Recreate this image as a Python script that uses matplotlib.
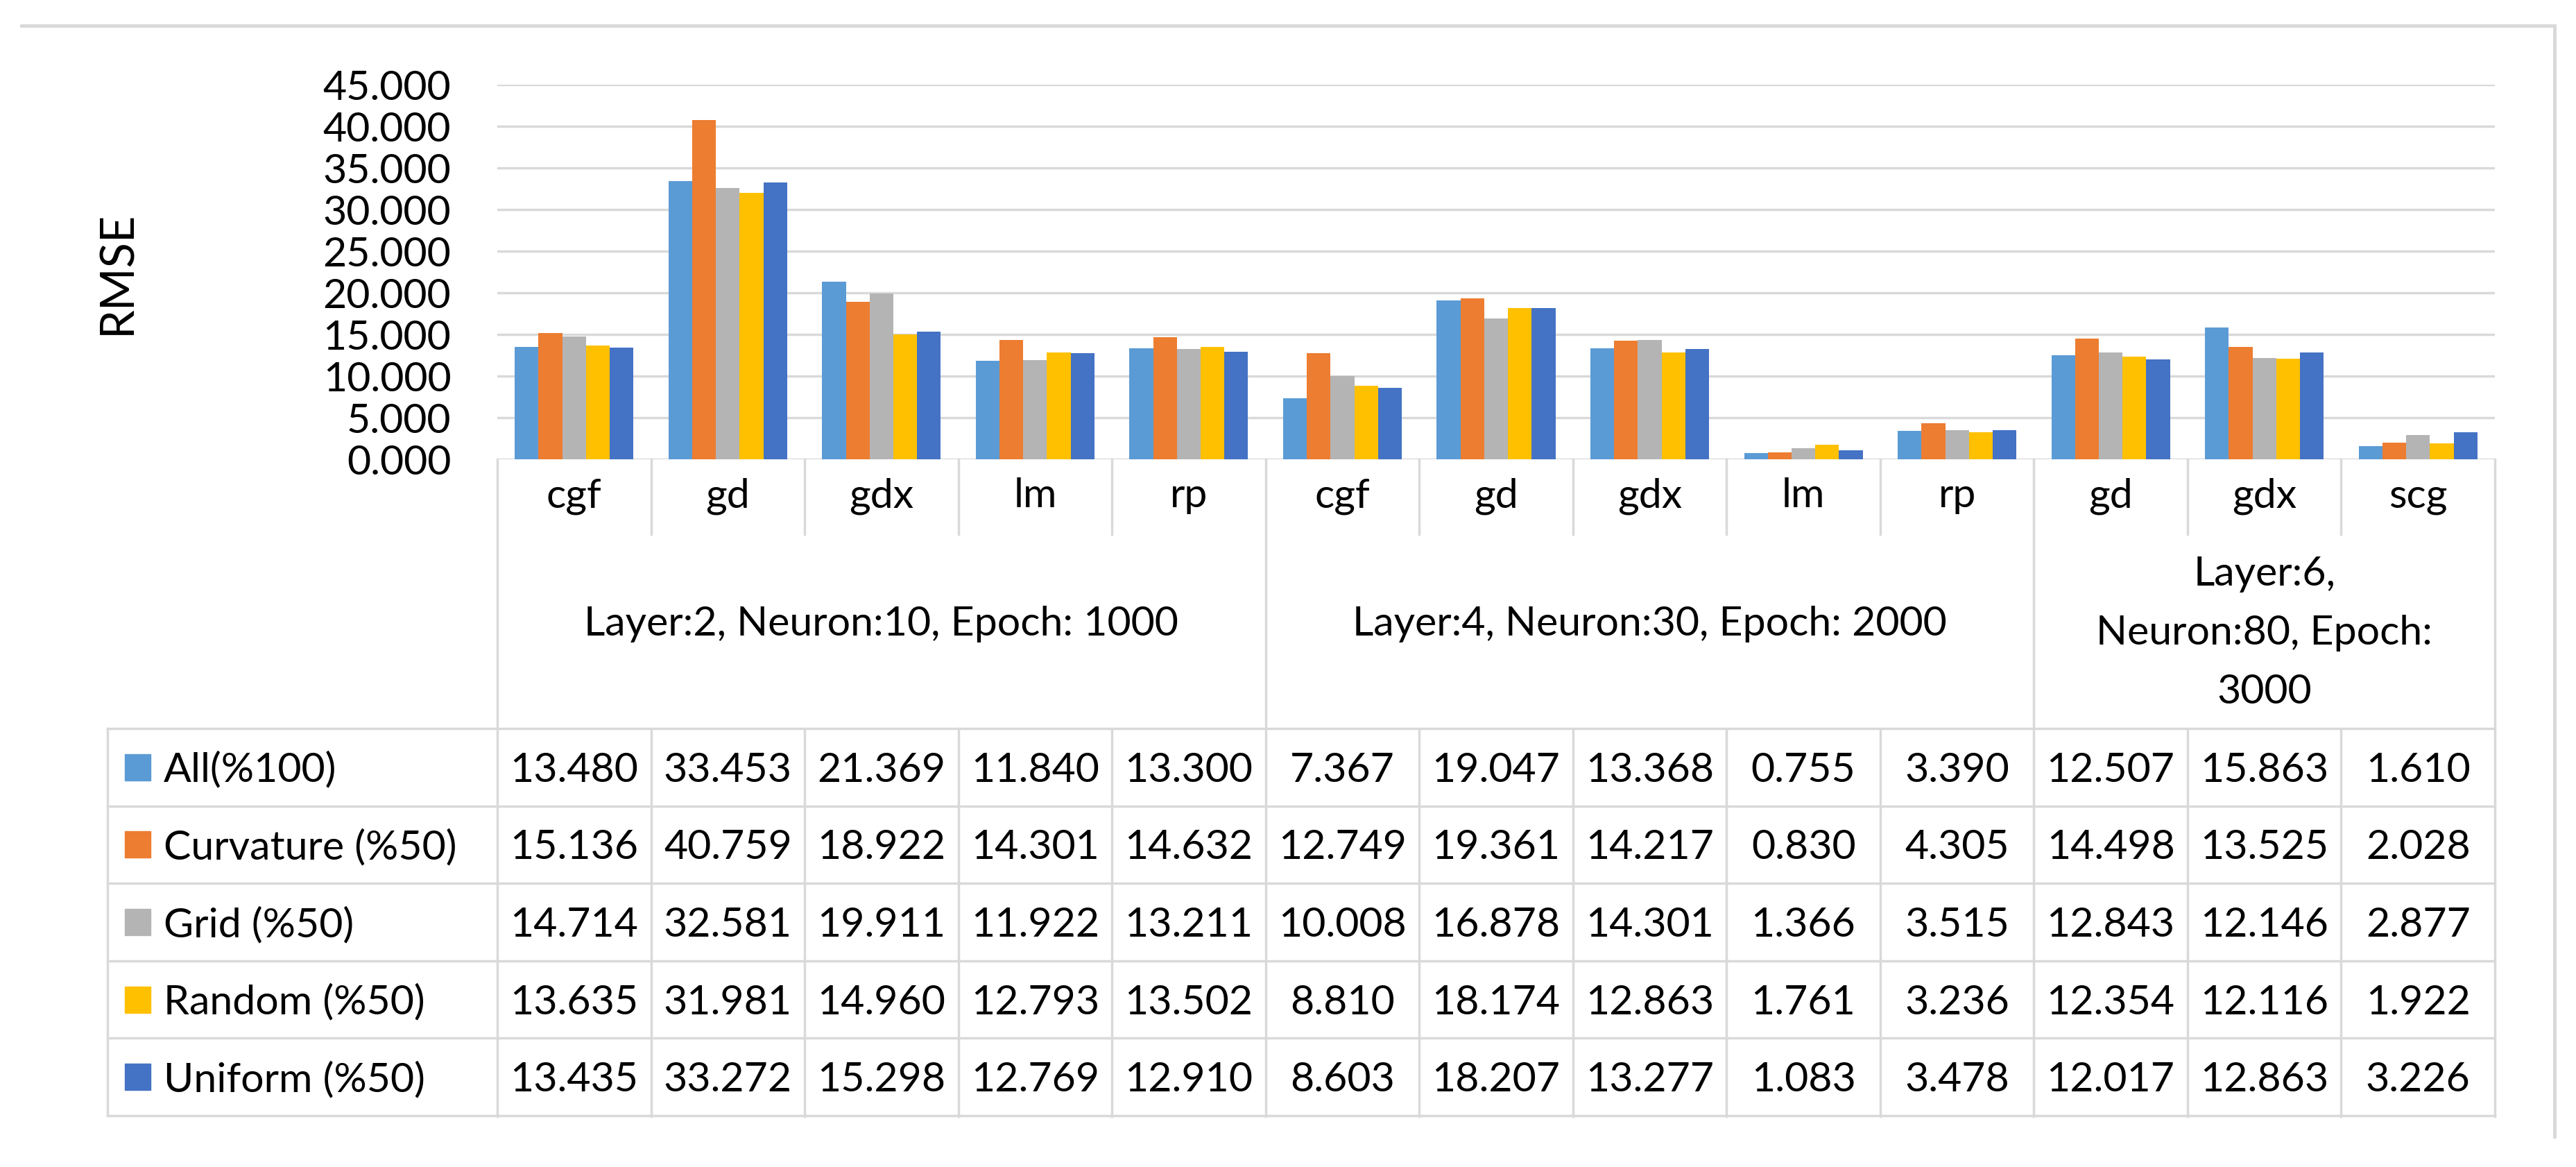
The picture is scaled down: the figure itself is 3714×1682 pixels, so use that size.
import numpy as np
import matplotlib.pyplot as plt
from matplotlib.transforms import blended_transform_factory
from matplotlib.patches import Rectangle

plt.rcParams['font.family'] = ['Lato', 'DejaVu Sans']

categories = ['cgf', 'gd', 'gdx', 'lm', 'rp', 'cgf', 'gd', 'gdx', 'lm', 'rp', 'gd', 'gdx', 'scg']
groups = ['Layer:2, Neuron:10, Epoch: 1000',
          'Layer:4, Neuron:30, Epoch: 2000',
          'Layer:6,\nNeuron:80, Epoch:\n3000']
group_sizes = [5, 5, 3]

series = ['All(%100)', 'Curvature (%50)', 'Grid (%50)', 'Random (%50)', 'Uniform (%50)']
all_100 = [13.480, 33.453, 21.369, 11.840, 13.300, 7.367, 19.047, 13.368, 0.755, 3.390, 12.507, 15.863, 1.610]
curvature = [15.136, 40.759, 18.922, 14.301, 14.632, 12.749, 19.361, 14.217, 0.830, 4.305, 14.498, 13.525, 2.028]
grid = [14.714, 32.581, 19.911, 11.922, 13.211, 10.008, 16.878, 14.301, 1.366, 3.515, 12.843, 12.146, 2.877]
random_50 = [13.635, 31.981, 14.960, 12.793, 13.502, 8.810, 18.174, 12.863, 1.761, 3.236, 12.354, 12.116, 1.922]
uniform = [13.435, 33.272, 15.298, 12.769, 12.910, 8.603, 18.207, 13.277, 1.083, 3.478, 12.017, 12.863, 3.226]
values = [all_100, curvature, grid, random_50, uniform]
colors = ['#5B9BD5', '#ED7D31', '#B4B4B4', '#FFC000', '#4472C4']

W, H = 3714, 1682
LINE = '#D9D9D9'
FS = 42.5

fig = plt.figure(figsize=(W / 100, H / 100), dpi=100)
ax = fig.add_axes([717 / W, 1 - 662 / H, 2880 / W, 540 / H])

x = np.arange(len(categories))
bw = 0.1545
for i, (name, vals) in enumerate(zip(series, values)):
    ax.bar(x + (i - 2) * bw, vals, width=bw, color=colors[i], zorder=3, linewidth=0)

ax.set_xlim(-0.5, len(categories) - 0.5)
ax.set_ylim(0, 45)
ax.set_yticks(np.arange(0, 46, 5))
ax.set_yticklabels(['%.3f' % v for v in np.arange(0, 46, 5)], fontsize=FS)
ax.tick_params(axis='y', length=0, pad=48)
ax.set_xticks([])
ax.grid(axis='y', color=LINE, linewidth=2.5, zorder=0)
for s in ax.spines.values():
    s.set_visible(False)

fig.text(169 / W, 1 - 393 / H, 'RMSE', rotation=90, fontsize=48,
         ha='center', va='center')

# data table under the chart
fy = lambda y: 1 - y / H
trans = blended_transform_factory(ax.transData, fig.transFigure)
lw = 2.5

def vline(xd, y0, y1):
    ax.plot([xd, xd], [fy(y0), fy(y1)], color=LINE, lw=lw, transform=trans, clip_on=False)

def hline(x0, x1, y):
    fig.add_artist(plt.Line2D([x0 / W, x1 / W], [fy(y), fy(y)], color=LINE, lw=lw))

n = len(categories)
bounds = np.cumsum(group_sizes)[:-1] - 0.5
vline(-0.5, 662, 1609)
vline(n - 0.5, 662, 1609)
for b in np.arange(0.5, n - 1, 1.0):
    if b in bounds:
        vline(b, 662, 1609)
    else:
        vline(b, 662, 770)
        vline(b, 1050, 1609)

row_top = 1050
row_h = 111.6
for r in range(len(series) + 1):
    hline(155, 3597, row_top + r * row_h)
fig.add_artist(plt.Line2D([155 / W, 155 / W], [fy(row_top), fy(row_top + 5 * row_h)], color=LINE, lw=lw))

# category labels
for i, c in enumerate(categories):
    ax.text(i, fy(731), c, transform=trans, ha='center', va='baseline', fontsize=FS)

# group labels
start = 0
for g, size in zip(groups, group_sizes):
    lines = g.split('\n')
    mid = 916 if len(lines) == 1 else 929
    cx = start + (size - 1) / 2
    for j, ln in enumerate(lines):
        yb = mid + (j - (len(lines) - 1) / 2) * 85
        ax.text(cx, fy(yb), ln, transform=trans, ha='center', va='baseline', fontsize=FS)
    start += size

# rows with legend keys and values
for r, (name, vals) in enumerate(zip(series, values)):
    yc = row_top + (r + 0.5) * row_h
    fig.add_artist(Rectangle((180 / W, fy(yc + 19)), 37 / W, 38 / H, color=colors[r],
                             transform=fig.transFigure))
    fig.text(236 / W, fy(yc + 21), name, ha='left', va='baseline', fontsize=FS)
    for i, v in enumerate(vals):
        ax.text(i, fy(yc + 21), '%.3f' % v, transform=trans, ha='center', va='baseline', fontsize=FS)

# chart frame (top and right edges visible)
fig.add_artist(plt.Line2D([31 / W, 3683 / W], [fy(37), fy(37)], color=LINE, lw=3.5))
fig.add_artist(plt.Line2D([3683 / W, 3683 / W], [fy(37), fy(1638)], color=LINE, lw=3.5))

fig.savefig('out.png', dpi=100)
